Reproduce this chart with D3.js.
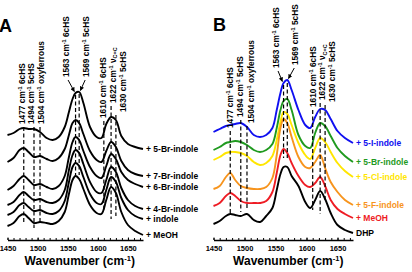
<!DOCTYPE html>
<html><head><meta charset="utf-8">
<script src="https://cdn.jsdelivr.net/npm/d3@7"></script>
<style>
body{margin:0;background:#fff;}
svg{display:block;font-family:"Liberation Sans",Arial,sans-serif;}
</style></head><body>
<svg id="c" width="412" height="272"></svg>
<script>
// ---------- data ----------
const wavenumbers = [1450,1460,1470,1477,1485,1494,1504,1515,1525,1535,1545,1552,1558,1563,1569,1576,1587,1598,1606,1614,1622,1630,1639,1650,1662,1675];
const xTicks = [1450,1500,1550,1600,1650];
const minorTicks = [1450,1460,1470,1480,1490,1500,1510,1520,1530,1540,1550,1560,1570,1580,1590,1600,1610,1620,1630,1640,1650,1660,1670];

// Panel A (stacked intensities, a.u.)
const namesA = ["+ 5-Br-indole","+ 7-Br-indole","+ 6-Br-indole","+ 4-Br-indole","+ indole","+ MeOH"];
const a_5Br  = [105,107,111,112,111,111,108,102,100,103,113,128,141,147,148,137,113,103,102,116,123,120,104,96,93,91];
const a_7Br  = [78,82,90,92,88,83,84,81,79,82,91,105,117,120,117,106,89,80,78,89,98,93,79,70,66,64];
const a_6Br  = [50,54,61,64,60,55,56,53,51,54,64,83,98,103,100,89,73,64,62,74,86,81,68,60,56,53];
const a_4Br  = [35,38,45,48,44,40,41,38,37,40,50,70,85,90,87,76,58,48,47,60,73,68,52,40,34,31];
const a_ind  = [25,28,35,37,33,29,30,27,26,29,39,58,73,77,74,63,46,37,36,50,63,58,42,30,24,21];
const a_MeOH = [14,17,24,26,22,17,18,17,16,19,28,46,60,64,61,51,35,27,26,40,53,47,28,15,9,5];

// Panel B
const namesB = ["+ 5-I-indole","+ 5-Br-indole","+ 5-Cl-indole","+ 5-F-indole","+ MeOH","DHP"];
const colorsB = ["#1010f0","#1f9a1f","#ffe600","#f7941d","#ee1c24","#000000"];
const b_5I   = [108,111,114,115,116,117,113,105,103,105,112,130,147,157,160,150,130,115,112,123,131,130,121,109,102,97];
const b_5Br  = [90,93,97,98,99,98,95,90,88,90,96,112,130,139,141,130,105,94,92,107,117,114,104,92,84,78];
const b_5Cl  = [80,83,87,88,88,87,84,78,75,77,84,100,118,128,126,115,97,85,81,92,102,98,88,77,69,63];
const b_5F   = [51,54,63,67,60,54,52,51,51,53,62,85,112,121,117,103,83,73,72,78,85,72,58,48,40,35];
const b_MeOH = [34,37,44,47,44,39,37,37,37,39,48,67,85,91,87,77,64,55,53,57,63,54,40,31,26,22];
const b_DHP  = [16,19,24,26,25,24,26,20,18,24,32,50,66,73,73,64,54,38,32,40,49,41,27,15,10,7];

// band annotations
const bandWN   = [1477,1494,1504,1563,1569,1610,1622,1630];
const bandNum  = ["1477","1494","1504","1563","1569","1610","1622","1630"];
const bandTag  = ["6cHS","5cHS","oxyferrous","6cHS","5cHS","6cHS","\u03bd","5cHS"];

// ---------- drawing ----------
const svg = d3.select("#c");
const FONT = "'Liberation Sans',Arial,sans-serif";

svg.append("defs").append("marker")
  .attr("id","ah").attr("viewBox","0 0 10 10").attr("refX",9).attr("refY",5)
  .attr("markerWidth",4.5).attr("markerHeight",4.5).attr("orient","auto")
  .append("path").attr("d","M0,0 L10,5 L0,10 z").attr("fill","#000");

function panel(cfg){
  const x = d3.scaleLinear().domain([1450,1675]).range(cfg.range);
  const y = d3.scaleLinear().domain([0,240]).range([240,0]);
  const g = svg.append("g");

  // letter
  g.append("text").attr("x",cfg.letterX).attr("y",cfg.letterY).text(cfg.letter)
    .attr("font-size",18).attr("font-weight","bold").attr("font-family",FONT);

  // axes
  const ax1 = g.append("g").attr("transform","translate(0,240)")
    .call(d3.axisBottom(x).tickValues(minorTicks).tickSize(-2).tickSizeOuter(0).tickFormat(""));
  ax1.select(".domain").attr("stroke-width",1.5);
  ax1.selectAll(".tick line").attr("stroke-width",1);
  const ax2 = g.append("g").attr("transform","translate(0,240)")
    .call(d3.axisBottom(x).tickValues(xTicks).tickSize(-2.5).tickSizeOuter(0).tickPadding(6).tickFormat(d3.format("d")));
  ax2.select(".domain").remove();
  ax2.selectAll(".tick line").attr("stroke-width",1);
  ax2.attr("font-family",FONT).attr("font-size",7.5).attr("font-weight","bold");

  const mid = (cfg.range[0]+cfg.range[1])/2 + cfg.titleDx;
  const t = g.append("text").attr("x",mid).attr("y",265).attr("text-anchor","middle")
    .attr("font-family",FONT).attr("font-size",12).attr("font-weight","bold");
  t.append("tspan").text("Wavenumber (cm");
  t.append("tspan").text("-1").attr("font-size",7.5).attr("dy",-4.5);
  t.append("tspan").text(")").attr("dy",4.5);

  // traces
  const line = d3.line().x((d,i)=>x(wavenumbers[i])).y(d=>y(d)).curve(d3.curveCatmullRom.alpha(0.5));
  cfg.series.forEach((s,k)=>{
    g.append("path").attr("d",line(s)).attr("fill","none")
      .attr("stroke",cfg.colors[k]).attr("stroke-width",1.9).attr("stroke-linejoin","round");
    g.append("text").attr("x",cfg.range[1]+3).attr("y",y(s[s.length-1])).attr("dy","0.35em")
      .text(cfg.names[k]).attr("fill",cfg.colors[k])
      .attr("font-family",FONT).attr("font-size",8.5).attr("font-weight","bold");
  });

  // dashed lines
  bandWN.forEach((w,i)=>{
    g.append("line").attr("x1",x(w)).attr("x2",x(w)).attr("y1",cfg.dashTop[i]).attr("y2",cfg.dashBot[i])
      .attr("stroke","#000").attr("stroke-width",1.2).attr("stroke-dasharray","4,2.5");
  });

  // annotations
  const top = cfg.series[0];
  bandWN.forEach((w,i)=>{
    const tx = x(w)+cfg.textDx[i], ty = cfg.textBot[i];
    const tt = g.append("text").attr("transform",`translate(${tx},${ty}) rotate(-90)`)
      .attr("dy","0.35em").attr("font-family",FONT).attr("font-size",8.3).attr("font-weight","bold");
    tt.append("tspan").text(bandNum[i]+" cm");
    tt.append("tspan").text("-1").attr("font-size",5.5).attr("dy",-3);
    if (bandTag[i]==="\u03bd"){
      tt.append("tspan").text(" \u03bd").attr("dy",3);
      tt.append("tspan").text("C=C").attr("font-size",5.5).attr("dy",1.5);
    } else {
      tt.append("tspan").text(" "+bandTag[i]).attr("dy",3);
    }
    if (w===1563 || w===1569){
      const idx = wavenumbers.indexOf(w);
      const hx = x(w) + (w===1563 ? -1.2 : 1.2);
      const hy = y(top[idx]) - 1.5;
      g.append("line").attr("x1",tx+(w===1563?1.5:-1)).attr("y1",ty+3)
        .attr("x2",hx).attr("y2",hy).attr("stroke","#000").attr("stroke-width",1)
        .attr("marker-end","url(#ah)");
    }
  });
}

panel({
  range:[7.5,143], letter:"A", letterX:-1, letterY:32, titleDx:4.5,
  series:[a_5Br,a_7Br,a_6Br,a_4Br,a_ind,a_MeOH], names:namesA,
  colors:["#000","#000","#000","#000","#000","#000"],
  dashTop:[127,127,127,95,94,121,106,115], dashBot:[222,228,224,175,175,211,219,216],
  textDx:[-2,-3,1,-9,7,-1,2,7], textBot:[124,124,124,77,77,118,103,112]
});
panel({
  range:[213.5,353], letter:"B", letterX:213, letterY:31, titleDx:5,
  series:[b_5I,b_5Br,b_5Cl,b_5F,b_MeOH,b_DHP], names:namesB, colors:colorsB,
  dashTop:[131,120,126,85,83,110,103,105], dashBot:[213,212,210,158,158,210,214,200],
  textDx:[0,-1,4,-7,8,0,2,7], textBot:[128,117,123,68,65,107,100,102]
});
</script>
</body></html>
